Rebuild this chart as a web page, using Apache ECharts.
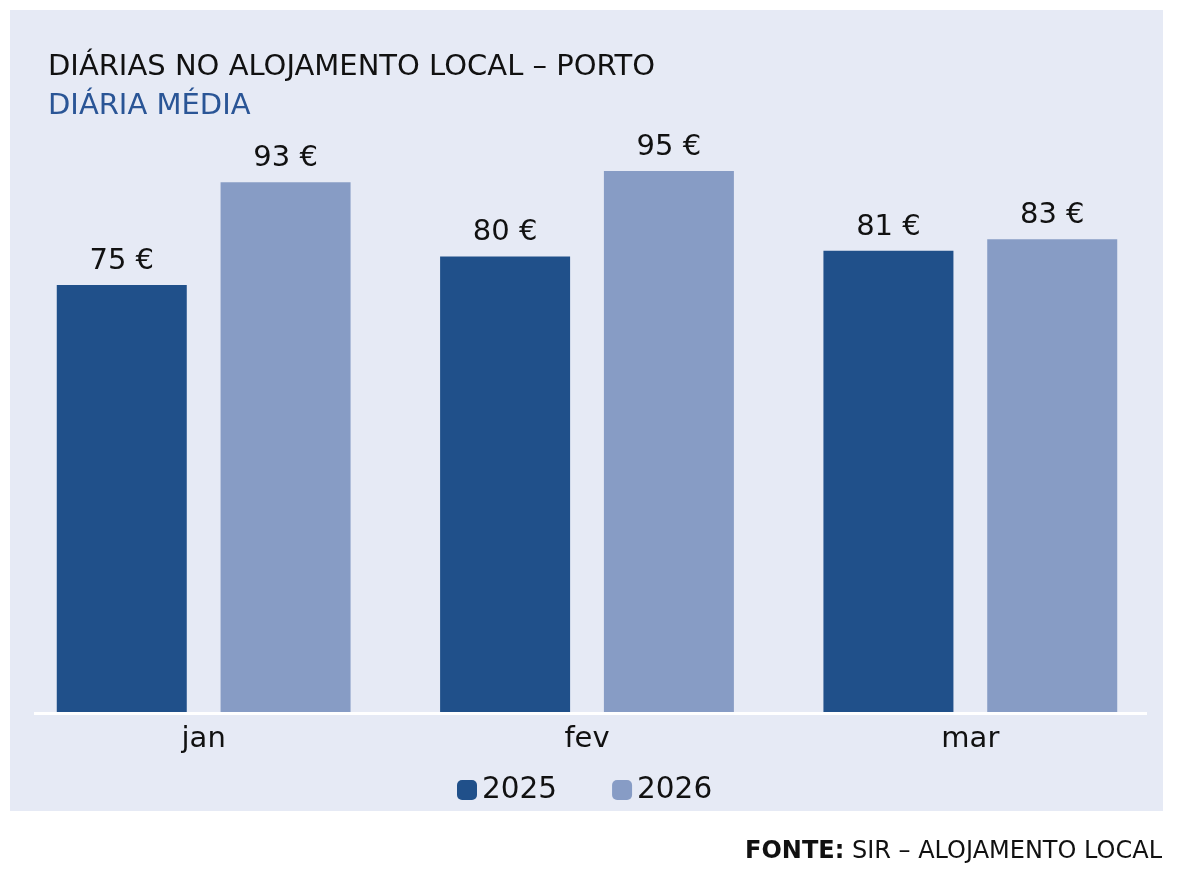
<!DOCTYPE html>
<html>
<head>
<meta charset="UTF-8">
<style>
  html, body { margin: 0; padding: 0; background: #fff; }
  #main { width: 1184px; height: 882px; }
</style>
</head>
<body>
<div id="main"></div>
<script src="https://cdn.jsdelivr.net/npm/echarts@6/dist/echarts.min.js"></script>
<script type="text/javascript">
// dados
var meses = ['jan', 'fev', 'mar'];
var anos = ['2025', '2026'];
var diaria2025 = [75, 80, 81];
var diaria2026 = [93, 95, 83];

var FONT = '"DejaVu Sans", sans-serif';
var azulEscuro = '#20508a';
var azulClaro = '#879cc5';

var myChart = echarts.init(document.getElementById('main'));

function serie(nome, dados, cor) {
	return {
		name: nome,
		type: 'bar',
		data: dados,
		barWidth: 130,
		barGap: '26%',
		itemStyle: { color: cor },
		label: {
			show: true,
			position: 'top',
			distance: 9,
			formatter: '{c} €',
			fontFamily: FONT,
			fontSize: 29,
			color: '#111'
		}
	};
}

var option = {
	backgroundColor: '#fff',
	animation: false,
	graphic: [
		{ type: 'rect', z: -10, shape: { x: 10, y: 10, width: 1153, height: 801 }, style: { fill: '#e6eaf5' } },
		{ type: 'rect', z: 5, shape: { x: 34, y: 712, width: 1113, height: 3 }, style: { fill: '#ffffff' } },
		{
			type: 'text', left: 48, top: 53,
			style: { text: 'DIÁRIAS NO ALOJAMENTO LOCAL – PORTO', font: '29px ' + FONT, fill: '#111' }
		},
		{
			type: 'text', left: 48, top: 92,
			style: { text: 'DIÁRIA MÉDIA', font: '29px ' + FONT, fill: '#2a5596' }
		},
		{
			type: 'text', right: 22, top: 840,
			style: {
				text: '{b|FONTE:} SIR – ALOJAMENTO LOCAL',
				font: '24px ' + FONT,
				fill: '#111',
				rich: {
					b: { fontFamily: FONT, fontSize: 24, fontWeight: 'bold', fill: '#111' }
				}
			}
		}
	],
	legend: {
		data: anos,
		left: 452,
		top: 770,
		itemWidth: 20,
		itemHeight: 20,
		itemGap: 55,
		icon: 'roundRect',
		textStyle: { fontFamily: FONT, fontSize: 29.5, color: '#111' }
	},
	grid: { left: 12, right: 22, top: 142.5, bottom: 170, containLabel: false },
	xAxis: {
		type: 'category',
		data: meses,
		axisLine: { show: false },
		axisTick: { show: false },
		axisLabel: { margin: 13, fontFamily: FONT, fontSize: 29, color: '#111' }
	},
	yAxis: {
		type: 'value',
		min: 0,
		max: 100,
		show: false,
		splitLine: { show: false }
	},
	series: [
		serie(anos[0], diaria2025, azulEscuro),
		serie(anos[1], diaria2026, azulClaro)
	]
};

myChart.setOption(option);
</script>
</body>
</html>
